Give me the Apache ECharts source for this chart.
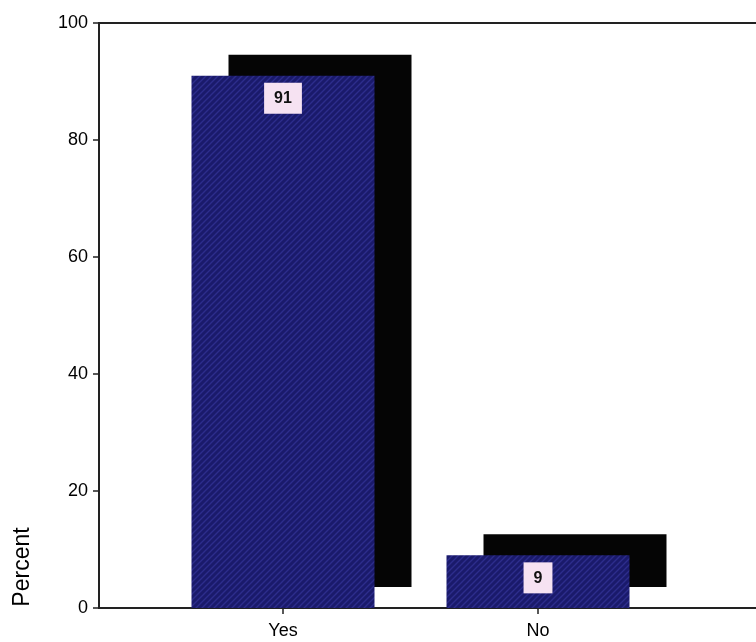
<!DOCTYPE html>
<html>
<head>
<meta charset="utf-8">
<script src="https://cdn.jsdelivr.net/npm/echarts@6/dist/echarts.min.js"></script>
<style>
html,body{margin:0;padding:0;background:#fff;}
#chart{width:756px;height:642px;}
</style>
</head>
<body>
<div id="chart"></div>
<script>
// Data
var categories = ['Yes', 'No'];
var percentValues = [91, 9];
var yTicks = [0, 20, 40, 60, 80, 100];
var yAxisTitle = 'Percent';

// hatched navy pattern
var tile = document.createElement('canvas');
tile.width = 6; tile.height = 6;
var tc = tile.getContext('2d');
tc.fillStyle = '#1a1a6b';
tc.fillRect(0, 0, 6, 6);
tc.strokeStyle = '#2d2d8c';
tc.lineWidth = 1.4;
tc.beginPath();
tc.moveTo(-1, 7); tc.lineTo(7, -1);
tc.moveTo(-4, 4); tc.lineTo(4, -4);
tc.moveTo(2, 10); tc.lineTo(10, 2);
tc.stroke();

var chart = echarts.init(document.getElementById('chart'), null, {renderer: 'canvas'});
var font = 'Liberation Sans, Arial, sans-serif';
var option = {
  animation: false,
  backgroundColor: '#ffffff',
  grid: [
    {left: 99, top: 23, bottom: 34, right: -20, outerBoundsMode: 'none', containLabel: false,
     show: true, borderColor: '#222', borderWidth: 2, backgroundColor: 'transparent'},
    {left: 155.5, top: 23, bottom: 34, right: 90.5, outerBoundsMode: 'none', containLabel: false}
  ],
  graphic: [{
    type: 'text', x: 23, y: 567, rotation: Math.PI / 2,
    style: {text: yAxisTitle, font: '23px Liberation Sans, Arial, sans-serif', fill: '#000', align: 'center', verticalAlign: 'middle'}
  }],
  xAxis: [
    {gridIndex: 0, type: 'value', min: 0, max: 1, axisLine: {show: true, lineStyle: {color: '#222', width: 2}}, axisTick: {show: false}, axisLabel: {show: false}, splitLine: {show: false}},
    {gridIndex: 1, type: 'category', data: categories,
     axisLine: {show: false},
     axisTick: {show: true, alignWithLabel: true, length: 6, lineStyle: {color: '#222', width: 1.5}},
     axisLabel: {color: '#000', fontSize: 18, fontFamily: font, margin: 14},
     splitLine: {show: false}}
  ],
  yAxis: [
    {gridIndex: 0, type: 'value', min: yTicks[0], max: yTicks[yTicks.length - 1], interval: 20,
     axisLine: {show: true, lineStyle: {color: '#222', width: 2}},
     axisTick: {show: true, length: 6, lineStyle: {color: '#222', width: 1.5}},
     axisLabel: {color: '#000', fontSize: 18, fontFamily: font, margin: 11},
     splitLine: {show: false}},
    {gridIndex: 1, type: 'value', min: yTicks[0], max: yTicks[yTicks.length - 1], show: false}
  ],
  series: [{
    type: 'bar',
    xAxisIndex: 1, yAxisIndex: 1,
    data: percentValues,
    barWidth: 183,
    itemStyle: {
      color: {image: tile, repeat: 'repeat'},
      shadowColor: '#050505', shadowBlur: 0, shadowOffsetX: 37, shadowOffsetY: -21
    },
    label: {
      show: true, position: 'insideTop', distance: 7,
      color: '#111', fontWeight: 'bold', fontSize: 16, fontFamily: font,
      backgroundColor: '#f6e2f2', padding: [8, 10, 7, 10]
    }
  }]
};
chart.setOption(option);
</script>
</body>
</html>
